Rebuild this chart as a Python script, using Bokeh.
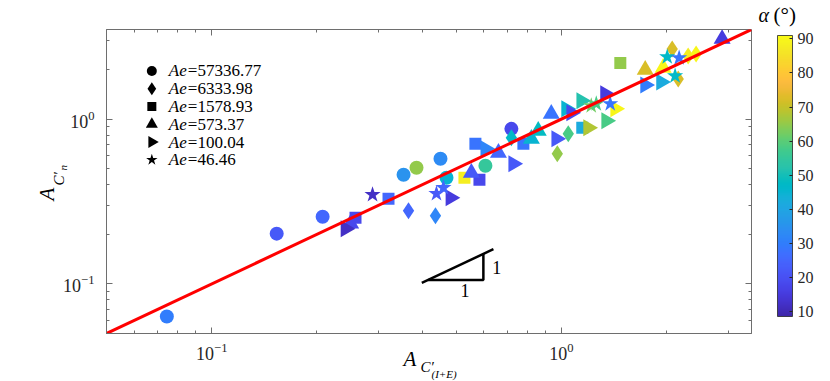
import numpy as np
from bokeh.plotting import figure
from bokeh.models import (ColumnDataSource, LinearColorMapper, ColorBar, FixedTicker,
                          LogAxis, Label, CustomJSTickFormatter, Range1d)
from bokeh.embed import file_html
from bokeh.resources import INLINE

# ---------------- data ----------------
# Ae = 57336.77 (circles)
circ_x = [0.0744, 0.1534, 0.2076, 0.3538, 0.3853, 0.4512, 0.4694, 0.6066, 0.7197]
circ_y = [0.0634, 0.2018, 0.2558, 0.4597, 0.5068, 0.5746, 0.4406, 0.5212, 0.8730]
circ_a = [30, 22, 25, 35, 65, 33, 45, 55, 18]
# Ae = 6333.98 (diamonds)
diam_x = [0.3655, 0.4365, 0.7197, 0.974, 1.047, 2.076, 2.306, 2.43, 2.16]
diam_y = [0.278, 0.2594, 0.770, 0.616, 0.815, 2.667, 2.42, 2.488, 1.755]
diam_a = [25, 32, 47, 65, 58, 72, 88, 90, 72]
# Ae = 1578.93 (squares)
sq_x = [0.2578, 0.3204, 0.5283, 0.5832, 0.5679, 0.779, 1.148, 1.475]
sq_y = [0.2522, 0.3288, 0.4406, 0.4287, 0.708, 0.708, 0.886, 2.194]
sq_a = [18, 25, 88, 18, 28, 28, 42, 65]
# Ae = 573.37 (triangles up)
tri_x = [0.2497, 0.553, 0.661, 0.936, 0.859, 0.821, 1.738, 1.956, 2.884]
tri_y = [0.232, 0.4727, 0.625, 1.077, 0.849, 0.76, 1.99, 2.046, 3.067]
tri_a = [18, 22, 25, 28, 48, 45, 72, 90, 15]
# Ae = 100.04 (triangles right)
rtri_x = [0.2415, 0.482, 0.6066, 0.729, 0.9677, 1.033, 1.141, 1.335, 1.345, 1.194, 1.738, 1.93, 1.068, 1.427]
rtri_y = [0.2163, 0.3334, 0.66, 0.536, 0.76, 1.155, 1.291, 1.424, 0.977, 0.886, 1.614, 1.683, 1.092, 1.155]
rtri_a = [12, 15, 32, 22, 22, 45, 52, 15, 58, 68, 30, 42, 18, 90]
# Ae = 46.46 (stars)
star_x = [0.2884, 0.4394, 0.46, 1.218, 1.259, 1.38, 2.009, 2.173, 2.116]
star_y = [0.3477, 0.3527, 0.3834, 1.204, 1.238, 1.238, 2.386, 2.353, 1.83]
star_a = [12, 22, 25, 62, 58, 28, 47, 28, 47]

ae_values = ["57336.77", "6333.98", "1578.93", "573.37", "100.04", "46.46"]
axis_limits = [0.05, 3.5]
major_ticks = [0.1, 1.0]
alpha_limits = [8.5, 91]
alpha_ticks = [10, 20, 30, 40, 50, 60, 70, 80, 90]
# slope-1 indicator triangle
hyp_x = [0.399, 0.6394]
hyp_y = [0.1014, 0.1625]
leg_x = [0.416, 0.5985, 0.5985]
leg_y = [0.1057, 0.1057, 0.1521]

# ---------------- parula colormap ----------------
PARULA64 = [
    (0.2422, 0.1504, 0.6603), (0.2504, 0.1650, 0.7076), (0.2578, 0.1818, 0.7511), (0.2647, 0.1978, 0.7952),
    (0.2706, 0.2147, 0.8364), (0.2751, 0.2342, 0.8710), (0.2783, 0.2559, 0.8991), (0.2803, 0.2782, 0.9221),
    (0.2813, 0.3006, 0.9414), (0.2810, 0.3228, 0.9579), (0.2795, 0.3447, 0.9717), (0.2760, 0.3667, 0.9829),
    (0.2699, 0.3892, 0.9906), (0.2602, 0.4123, 0.9952), (0.2440, 0.4358, 0.9988), (0.2206, 0.4603, 0.9973),
    (0.1963, 0.4847, 0.9892), (0.1834, 0.5074, 0.9798), (0.1786, 0.5289, 0.9682), (0.1764, 0.5499, 0.9520),
    (0.1687, 0.5703, 0.9359), (0.1540, 0.5902, 0.9218), (0.1460, 0.6091, 0.9079), (0.1380, 0.6276, 0.8973),
    (0.1248, 0.6459, 0.8883), (0.1113, 0.6635, 0.8763), (0.0952, 0.6798, 0.8598), (0.0689, 0.6948, 0.8394),
    (0.0297, 0.7082, 0.8163), (0.0036, 0.7203, 0.7917), (0.0067, 0.7312, 0.7660), (0.0433, 0.7411, 0.7394),
    (0.0964, 0.7500, 0.7120), (0.1408, 0.7584, 0.6842), (0.1717, 0.7670, 0.6554), (0.1938, 0.7758, 0.6251),
    (0.2161, 0.7843, 0.5923), (0.2470, 0.7918, 0.5567), (0.2906, 0.7973, 0.5188), (0.3406, 0.8008, 0.4789),
    (0.3909, 0.8029, 0.4354), (0.4456, 0.8024, 0.3909), (0.5044, 0.7993, 0.3480), (0.5616, 0.7942, 0.3045),
    (0.6174, 0.7876, 0.2612), (0.6720, 0.7793, 0.2227), (0.7242, 0.7698, 0.1910), (0.7738, 0.7598, 0.1646),
    (0.8203, 0.7498, 0.1535), (0.8634, 0.7406, 0.1596), (0.9035, 0.7330, 0.1774), (0.9393, 0.7288, 0.2100),
    (0.9728, 0.7298, 0.2394), (0.9956, 0.7434, 0.2371), (0.9970, 0.7659, 0.2199), (0.9952, 0.7893, 0.2028),
    (0.9892, 0.8136, 0.1885), (0.9786, 0.8386, 0.1766), (0.9676, 0.8639, 0.1643), (0.9610, 0.8890, 0.1537),
    (0.9597, 0.9135, 0.1423), (0.9628, 0.9373, 0.1265), (0.9691, 0.9606, 0.1064), (0.9769, 0.9839, 0.0805),
]
_arr = np.array(PARULA64)
_t = np.linspace(0, 1, len(PARULA64))
_tt = np.linspace(0, 1, 256)
palette = ["#%02x%02x%02x" % tuple(int(round(255 * np.interp(v, _t, _arr[:, k]))) for k in range(3)) for v in _tt]

SERIF = "Liberation Serif"
AXC = "#6e6e6e"
TXT = "#262626"

minor = [m * 10.0 ** e for e in (-2, -1, 0) for m in range(2, 10)]

p = figure(x_axis_type="log", y_axis_type="log",
           x_range=Range1d(*axis_limits), y_range=Range1d(*axis_limits),
           frame_width=645, frame_height=304,
           min_border_left=106, min_border_right=79, min_border_top=29, min_border_bottom=48,
           output_backend="svg", toolbar_location=None,
           background_fill_color="white", border_fill_color="white")
p.grid.visible = False
p.outline_line_color = AXC
p.outline_line_width = 1

for ax in (p.xaxis[0], p.yaxis[0]):
    ax.ticker = FixedTicker(ticks=major_ticks, minor_ticks=minor)
    ax.axis_line_color = AXC
    ax.major_tick_line_color = AXC
    ax.minor_tick_line_color = AXC
    ax.major_tick_in = 6
    ax.major_tick_out = 0
    ax.minor_tick_in = 3
    ax.minor_tick_out = 0
    ax.major_label_text_font = SERIF
    ax.major_label_text_font_size = "18px"
    ax.major_label_text_color = TXT
p.xaxis.major_label_standoff = 9
p.yaxis.major_label_standoff = 12

for side in ("above", "right"):
    ax = LogAxis(ticker=FixedTicker(ticks=major_ticks, minor_ticks=minor),
                 formatter=CustomJSTickFormatter(code="return ''"),
                 axis_line_color=None, major_tick_line_color=AXC, minor_tick_line_color=AXC,
                 major_tick_in=6, major_tick_out=0, minor_tick_in=3, minor_tick_out=0,
                 major_label_standoff=0, major_label_text_font_size="1px")
    p.add_layout(ax, side)

mapper = LinearColorMapper(palette=palette, low=alpha_limits[0], high=alpha_limits[1])


def add_series(xs, ys, al, marker, size, angle=0.0):
    src = ColumnDataSource(dict(x=xs, y=ys, a=al))
    p.scatter("x", "y", source=src, marker=marker, size=size, angle=angle,
              fill_color={"field": "a", "transform": mapper}, line_color=None)


add_series(circ_x, circ_y, circ_a, "circle", 14)
add_series(diam_x, diam_y, diam_a, "diamond", 17)
add_series(sq_x, sq_y, sq_a, "square", 12)
add_series(tri_x, tri_y, tri_a, "triangle", 17)
add_series(rtri_x, rtri_y, rtri_a, "triangle", 17, angle=-np.pi / 2)
add_series(star_x, star_y, star_a, "star", 17)

# y = x reference line
p.line(axis_limits, axis_limits, line_color="#ff0000", line_width=3)

# slope triangle
p.line(hyp_x, hyp_y, line_color="black", line_width=2.5)
p.line(leg_x, leg_y, line_color="black", line_width=2.5)


def make_label(text, x, y, xu, yu, size="17px", style="normal", angle=0.0,
               align="left", baseline="alphabetic", xo=0, yo=0, color="black"):
    return Label(x=x, y=y, x_units=xu, y_units=yu, text=text, text_font=SERIF,
                 text_font_size=size, text_font_style=style, angle=angle,
                 text_align=align, text_baseline=baseline, x_offset=xo, y_offset=yo,
                 text_color=color)


def lab(text, x, y, **kw):
    p.add_layout(make_label(text, x, y, "data", "data", **kw))


# texts outside the frame: labels in side panels, positioned in canvas pixels
try:
    Label(x_units="canvas")
    OUT_UNITS = "canvas"
except Exception:
    OUT_UNITS = "screen"


def outlab(text, x, y, side, **kw):
    kw.setdefault("baseline", "middle")
    p.add_layout(make_label(text, x, y, OUT_UNITS, OUT_UNITS, **kw), side)


lab("1", leg_x[1], 0.1266, size="18px", baseline="middle", xo=9)
lab("1", 0.53, leg_y[0], size="18px", align="center", baseline="top", yo=-4)

# legend (manual so that the right-pointing triangle is kept)
legend_markers = [("circle", 10, 0.0), ("diamond", 13, 0.0), ("square", 9, 0.0),
                  ("triangle", 12, 0.0), ("triangle", 12, -np.pi / 2), ("star", 12, 0.0)]
leg_px = 0.0674
leg_py = [1.962 * 0.78 ** i for i in range(len(ae_values))]
for (mk, sz, ang), yv, ae in zip(legend_markers, leg_py, ae_values):
    p.scatter([leg_px], [yv], marker=mk, size=sz, angle=ang, fill_color="black", line_color=None)
    lab("Ae", leg_px, yv, style="italic", baseline="middle", xo=17)
    lab("=" + ae, leg_px, yv, baseline="middle", xo=36)

# x axis label  A_{C'_{(I+E)}}  (positions are the centres of the glyph boxes)
outlab("A", 403, 358, "right", size="21px", style="italic")
outlab("C\u2032", 420, 366, "right", size="15px", style="italic")
outlab("(I+E)", 431, 373, "right", size="11px", style="italic")
# y axis label  A_{C'_n}
outlab("A", 46, 200, "left", size="21px", style="italic", angle=np.pi / 2)
outlab("C\u2032", 58, 185, "left", size="15px", style="italic", angle=np.pi / 2)
outlab("n", 62, 170, "left", size="11px", style="italic", angle=np.pi / 2)

# colour bar
cb = ColorBar(color_mapper=mapper, location=(671, 17), width=15, height=281, padding=0,
              ticker=FixedTicker(ticks=alpha_ticks),
              major_label_text_font=SERIF, major_label_text_font_size="16px",
              major_label_text_color=TXT, label_standoff=5,
              major_tick_line_color=TXT, major_tick_in=3, major_tick_out=0,
              minor_tick_line_color=None,
              bar_line_color=TXT, bar_line_width=0.8,
              border_line_color=None, background_fill_alpha=0)
p.add_layout(cb, "center")
outlab("\u03b1", 758, 14, "right", size="20px", style="italic")
outlab("(\u00b0)", 773, 14, "above", size="21px")

open("out.html", "w").write(file_html(p, INLINE))
